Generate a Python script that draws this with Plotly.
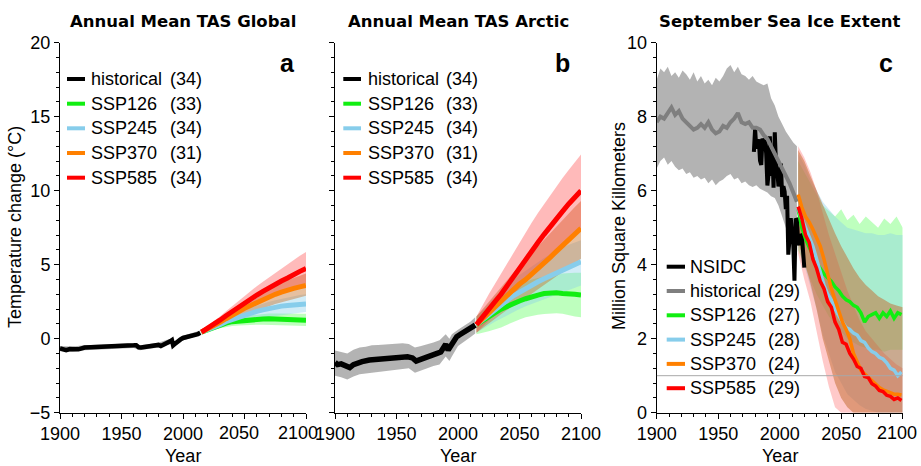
import plotly.graph_objects as go

# ---------------- DATA ----------------
# Panel a: Annual Mean TAS Global (degC)
hist_years_a = [1900, 1903, 1905, 1908, 1910, 1913, 1915, 1918, 1920, 1925, 1930, 1935, 1940, 1945, 1950,
                1955, 1960, 1962, 1964, 1966, 1970, 1975, 1980, 1982, 1985, 1988, 1990, 1991, 1992, 1993,
                1995, 1998, 2000, 2003, 2005, 2008, 2010, 2012, 2014]
hist_a = [-0.65, -0.75, -0.78, -0.7, -0.68, -0.72, -0.72, -0.65, -0.6, -0.57, -0.54, -0.52, -0.5, -0.48, -0.47,
          -0.46, -0.45, -0.44, -0.58, -0.6, -0.55, -0.5, -0.42, -0.5, -0.4, -0.3, -0.16, -0.1, -0.45, -0.38,
          -0.22, -0.05, 0.05, 0.12, 0.18, 0.2, 0.22, 0.3, 0.4]
band_years_a = [1900, 1910, 1920, 1940, 1960, 1965, 1980, 1990, 1992, 2000, 2014]
hist_a_lo = [-0.85, -0.88, -0.78, -0.68, -0.62, -0.78, -0.6, -0.35, -0.6, -0.12, 0.25]
hist_a_hi = [-0.5, -0.52, -0.45, -0.35, -0.3, -0.45, -0.27, 0.02, -0.28, 0.2, 0.55]

proj_years = [2015, 2020, 2025, 2030, 2035, 2040, 2045, 2050, 2055, 2060, 2065, 2070, 2075, 2080, 2085, 2090, 2095, 2100]

ssp126_a = [0.45, 0.6, 0.8, 0.95, 1.05, 1.15, 1.2, 1.25, 1.3, 1.32, 1.33, 1.35, 1.32, 1.3, 1.3, 1.27, 1.25, 1.25]
ssp126_a_lo = [0.35, 0.45, 0.6, 0.7, 0.8, 0.85, 0.9, 0.92, 0.95, 0.95, 0.95, 0.95, 0.93, 0.92, 0.9, 0.88, 0.87, 0.85]
ssp126_a_hi = [0.55, 0.75, 0.95, 1.15, 1.3, 1.45, 1.5, 1.55, 1.6, 1.65, 1.68, 1.7, 1.7, 1.7, 1.7, 1.7, 1.7, 1.68]
ssp245_a = [0.45, 0.6, 0.8, 0.95, 1.15, 1.3, 1.45, 1.6, 1.7, 1.85, 1.95, 2.05, 2.1, 2.2, 2.25, 2.3, 2.35, 2.35]
ssp245_a_lo = [0.35, 0.45, 0.6, 0.75, 0.9, 1.0, 1.1, 1.2, 1.3, 1.4, 1.45, 1.5, 1.55, 1.6, 1.65, 1.7, 1.75, 1.8]
ssp245_a_hi = [0.55, 0.75, 0.95, 1.15, 1.4, 1.6, 1.8, 1.95, 2.1, 2.25, 2.4, 2.5, 2.6, 2.7, 2.8, 2.85, 2.95, 3.0]
ssp370_a = [0.45, 0.65, 0.9, 1.1, 1.35, 1.6, 1.85, 2.05, 2.25, 2.45, 2.65, 2.85, 3.0, 3.15, 3.3, 3.4, 3.5, 3.6]
ssp370_a_lo = [0.35, 0.5, 0.7, 0.85, 1.05, 1.25, 1.45, 1.6, 1.75, 1.9, 2.05, 2.2, 2.35, 2.5, 2.6, 2.7, 2.8, 2.9]
ssp370_a_hi = [0.55, 0.8, 1.1, 1.35, 1.65, 1.95, 2.2, 2.45, 2.7, 2.95, 3.2, 3.4, 3.6, 3.8, 3.95, 4.1, 4.25, 4.4]
ssp585_a = [0.45, 0.7, 0.95, 1.25, 1.55, 1.85, 2.15, 2.45, 2.75, 2.95, 3.2, 3.45, 3.65, 3.9, 4.1, 4.35, 4.55, 4.75]
ssp585_a_lo = [0.35, 0.55, 0.75, 1.0, 1.25, 1.5, 1.75, 2.0, 2.2, 2.4, 2.6, 2.8, 2.95, 3.15, 3.3, 3.45, 3.6, 3.75]
ssp585_a_hi = [0.55, 0.85, 1.15, 1.5, 1.85, 2.2, 2.55, 2.9, 3.2, 3.55, 3.85, 4.15, 4.45, 4.75, 5.05, 5.35, 5.6, 5.85]

# Panel b: Annual Mean TAS Arctic (degC)
hist_years_b = [1900, 1902, 1905, 1908, 1912, 1915, 1918, 1922, 1928, 1933, 1939, 1945, 1950, 1955, 1959,
                1963, 1966, 1968, 1972, 1975, 1979, 1983, 1986, 1989, 1990, 1992, 1994, 1997, 1999, 2002,
                2005, 2007, 2010, 2012, 2014]
hist_b = [-1.6, -1.75, -1.7, -1.8, -1.95, -1.75, -1.62, -1.55, -1.44, -1.4, -1.37, -1.3, -1.26, -1.22, -1.22,
          -1.3, -1.51, -1.45, -1.35, -1.26, -1.15, -0.99, -0.9, -0.45, -0.38, -0.77, -0.5, -0.1, 0.14, 0.3,
          0.47, 0.5, 0.7, 0.8, 0.92]
band_years_b = [1900, 1905, 1910, 1915, 1920, 1925, 1930, 1935, 1940, 1945, 1950, 1955, 1960, 1965, 1970,
                1975, 1980, 1985, 1990, 1993, 1995, 2000, 2005, 2010, 2014]
hist_b_lo = [-2.5, -2.6, -2.75, -2.55, -2.4, -2.35, -2.25, -2.2, -2.15, -2.1, -2.05, -2.05, -2.0, -2.3, -2.15,
             -2.0, -1.85, -1.75, -1.2, -1.5, -1.2, -0.5, -0.2, 0.1, 0.35]
hist_b_hi = [-0.8, -0.9, -1.0, -0.75, -0.6, -0.55, -0.45, -0.42, -0.38, -0.36, -0.3, -0.3, -0.35, -0.6, -0.5,
             -0.4, -0.25, -0.1, 0.3, 0.0, 0.3, 0.6, 0.85, 1.15, 1.45]

ssp126_b = [0.95, 1.25, 1.5, 1.75, 2.0, 2.2, 2.4, 2.55, 2.7, 2.85, 2.95, 3.05, 3.1, 3.1, 3.05, 3.05, 3.0, 2.95]
ssp126_b_lo = [0.3, 0.4, 0.5, 0.6, 0.75, 0.95, 1.15, 1.3, 1.45, 1.55, 1.62, 1.67, 1.72, 1.72, 1.68, 1.6, 1.5, 1.45]
ssp126_b_hi = [1.5, 1.9, 2.25, 2.6, 2.9, 3.2, 3.45, 3.65, 3.85, 4.0, 4.1, 4.2, 4.3, 4.35, 4.4, 4.45, 4.45, 4.45]
ssp245_b = [0.95, 1.3, 1.65, 2.0, 2.3, 2.6, 2.9, 3.15, 3.4, 3.6, 3.85, 4.05, 4.25, 4.45, 4.65, 4.85, 5.05, 5.2]
ssp245_b_lo = [0.4, 0.65, 0.9, 1.15, 1.4, 1.6, 1.8, 2.0, 2.2, 2.4, 2.55, 2.7, 2.85, 3.0, 3.15, 3.3, 3.45, 3.6]
ssp245_b_hi = [1.5, 1.95, 2.4, 2.85, 3.2, 3.6, 3.95, 4.3, 4.6, 4.9, 5.2, 5.45, 5.7, 5.95, 6.15, 6.35, 6.5, 6.65]
ssp370_b = [0.95, 1.35, 1.75, 2.15, 2.55, 2.95, 3.35, 3.7, 4.0, 4.35, 4.7, 5.1, 5.5, 5.9, 6.3, 6.7, 7.1, 7.45]
ssp370_b_lo = [0.4, 0.7, 1.0, 1.35, 1.65, 1.95, 2.25, 2.5, 2.75, 3.0, 3.3, 3.6, 3.9, 4.2, 4.5, 4.8, 5.1, 5.4]
ssp370_b_hi = [1.5, 2.0, 2.5, 3.0, 3.5, 4.0, 4.5, 4.95, 5.35, 5.8, 6.2, 6.7, 7.15, 7.6, 8.05, 8.5, 8.9, 9.3]
ssp585_b = [0.95, 1.5, 2.0, 2.5, 3.0, 3.6, 4.2, 4.8, 5.4, 5.95, 6.5, 7.05, 7.6, 8.1, 8.6, 9.1, 9.55, 10.0]
ssp585_b_lo = [0.4, 0.85, 1.25, 1.65, 2.05, 2.5, 2.95, 3.4, 3.85, 4.3, 4.75, 5.2, 5.6, 6.0, 6.4, 6.8, 7.1, 7.4]
ssp585_b_hi = [1.5, 2.3, 3.0, 3.7, 4.4, 5.1, 5.8, 6.5, 7.2, 7.85, 8.5, 9.1, 9.7, 10.3, 10.85, 11.4, 11.95, 12.45]

# Panel c: September Sea Ice Extent (million km^2)
hist_years_c = [1900, 1903, 1906, 1909, 1912, 1915, 1918, 1921, 1924, 1927, 1930, 1933, 1936, 1939, 1942,
                1945, 1948, 1951, 1954, 1957, 1960, 1963, 1966, 1969, 1972, 1975, 1978, 1981, 1984, 1987,
                1990, 1993, 1996, 1999, 2002, 2005, 2008, 2011, 2014]
hist_c = [7.85, 8.0, 7.95, 8.1, 8.25, 8.05, 8.15, 7.95, 7.85, 7.75, 7.65, 7.7, 7.8, 7.7, 7.85,
          7.65, 7.55, 7.6, 7.75, 7.7, 7.85, 7.95, 8.1, 7.85, 7.8, 7.85, 7.7, 7.7, 7.65, 7.5,
          7.4, 7.2, 7.0, 6.85, 6.6, 6.45, 6.2, 5.95, 5.7]
hist_c_hi = [9.0, 9.3, 9.2, 9.35, 9.1, 9.2, 9.05, 9.25, 9.15, 9.0, 9.2, 8.95, 9.1, 8.9, 9.0,
             8.85, 9.05, 8.95, 9.1, 9.3, 9.4, 9.2, 9.35, 9.15, 9.1, 9.0, 9.1, 8.95, 8.9, 8.85,
             8.9, 8.5, 8.3, 8.0, 7.8, 7.6, 7.45, 7.3, 7.2]
hist_c_lo = [6.6, 6.8, 6.9, 6.7, 6.8, 6.65, 6.55, 6.6, 6.45, 6.5, 6.35, 6.4, 6.3, 6.35, 6.2,
             6.3, 6.15, 6.25, 6.3, 6.4, 6.45, 6.3, 6.35, 6.2, 6.25, 6.15, 6.1, 6.15, 6.05, 6.0,
             5.95, 5.85, 5.8, 5.6, 5.3, 5.0, 4.7, 4.45, 4.3]

nsidc_years = list(range(1979, 2021))
nsidc = [7.05, 7.67, 7.14, 7.3, 7.39, 6.81, 6.7, 7.41, 7.28, 7.37, 7.01, 6.14, 6.47, 7.47, 6.4, 7.14,
         6.08, 7.58, 6.69, 6.54, 6.12, 6.25, 6.73, 5.83, 6.12, 5.98, 5.5, 5.86, 4.27, 4.69, 5.26, 4.87,
         4.56, 3.57, 5.21, 5.22, 4.62, 4.53, 4.82, 4.79, 4.32, 3.92]

proj_years_c = [2015, 2018, 2021, 2024, 2027, 2030, 2033, 2036, 2039, 2042, 2045, 2048, 2051, 2054, 2057,
                2060, 2063, 2066, 2069, 2072, 2075, 2078, 2081, 2084, 2087, 2090, 2093, 2096, 2099]
ssp126_c = [5.5, 5.0, 4.7, 4.45, 4.25, 4.05, 3.9, 3.75, 3.65, 3.55, 3.4, 3.3, 3.15, 3.05, 3.0,
            2.9, 2.85, 2.7, 2.45, 2.6, 2.65, 2.7, 2.55, 2.7, 2.6, 2.75, 2.55, 2.7, 2.65]
ssp245_c = [5.5, 5.25, 4.95, 4.7, 4.5, 4.15, 3.8, 3.45, 3.2, 3.05, 2.8, 2.6, 2.45, 2.3, 2.25,
            2.15, 2.1, 1.95, 1.9, 1.75, 1.65, 1.6, 1.5, 1.45, 1.35, 1.2, 1.15, 1.0, 1.1]
ssp370_c = [5.9, 5.55, 5.3, 5.15, 4.95, 4.75, 4.5, 4.15, 3.7, 3.35, 3.05, 2.75, 2.45, 2.25, 2.0,
            1.6, 1.35, 1.15, 1.05, 0.95, 0.88, 0.78, 0.68, 0.62, 0.58, 0.52, 0.5, 0.5, 0.48]
ssp585_c = [5.57, 5.25, 4.8, 4.6, 4.15, 3.9, 3.55, 3.35, 3.0, 2.85, 2.45, 2.25, 1.9, 1.85, 1.6,
            1.45, 1.25, 1.2, 0.98, 0.95, 0.78, 0.72, 0.6, 0.57, 0.47, 0.44, 0.36, 0.4, 0.33]

ssp126_c_lo = [4.4, 4.0, 3.6, 3.2, 2.9, 2.6, 2.4, 2.2, 2.0, 1.9, 1.8, 1.75, 1.7, 1.7, 1.65, 1.7, 1.7, 1.7]
ssp126_c_hi = [6.8, 6.5, 6.2, 5.9, 5.6, 5.45, 5.3, 5.5, 5.2, 5.35, 5.1, 5.3, 5.15, 5.0, 5.25, 5.1, 5.3, 5.0]
ssp245_c_lo = [4.5, 4.0, 3.4, 2.8, 2.1, 1.6, 1.1, 0.8, 0.5, 0.35, 0.2, 0.1, 0.05, 0.0, 0.0, 0.0, 0.0, 0.0]
ssp245_c_hi = [7.0, 6.7, 6.3, 6.0, 5.7, 5.5, 5.3, 5.15, 5.0, 4.95, 4.9, 4.85, 4.85, 4.8, 4.8, 4.85, 4.8, 4.8]
ssp370_c_lo = [4.6, 4.1, 3.5, 2.8, 2.0, 1.4, 0.8, 0.4, 0.15, 0.0, 0.0, 0.0, 0.0, 0.0, 0.0, 0.0, 0.0, 0.0]
ssp370_c_hi = [7.1, 6.8, 6.4, 6.0, 5.6, 5.2, 4.85, 4.5, 4.2, 3.9, 3.65, 3.45, 3.3, 3.15, 3.05, 2.95, 2.9, 2.85]
ssp585_c_lo = [4.3, 3.6, 3.0, 2.2, 1.4, 0.7, 0.15, 0.0, 0.0, 0.0, 0.0, 0.0, 0.0, 0.0, 0.0, 0.0, 0.0, 0.0]
ssp585_c_hi = [7.2, 6.9, 6.5, 6.0, 5.4, 4.8, 4.3, 3.8, 3.3, 2.9, 2.5, 2.2, 2.0, 1.8, 1.6, 1.45, 1.3, 1.2]

# Tick labels and legend texts
x_tick_vals = [1900, 1950, 2000, 2050, 2100]
x_tick_text = ["1900", "1950", "2000", "2050", "2100"]
legend_names_ab = ["historical", "SSP126", "SSP245", "SSP370", "SSP585"]
legend_counts_ab = ["(34)", "(33)", "(34)", "(31)", "(34)"]
legend_names_c = ["NSIDC", "historical", "SSP126", "SSP245", "SSP370", "SSP585"]
legend_counts_c = ["", "(29)", "(27)", "(28)", "(24)", "(29)"]

# ---------------- STYLE ----------------
W, H = 921, 466
C_HIST = "black"
C_126 = "#11ee11"
C_245 = "#87cdeb"
C_370 = "#ff8000"
C_585 = "#ff0000"
F_126 = "rgba(40,255,40,0.30)"
F_245 = "rgba(135,206,235,0.38)"
F_370 = "rgba(200,115,45,0.45)"
F_585 = "rgba(255,40,40,0.32)"
F_370C = "rgba(195,110,50,0.52)"
F_585C = "rgba(255,60,60,0.28)"
F_GRAY = "rgba(150,150,150,0.72)"

fig = go.Figure()


def band(xa, ya, years, lo, hi, color):
    fig.add_trace(go.Scatter(x=list(years) + list(years)[::-1], y=list(hi) + list(lo)[::-1],
                             xaxis=xa, yaxis=ya, fill="toself", fillcolor=color, mode="lines",
                             line=dict(width=0), hoverinfo="skip", showlegend=False))


def line(xa, ya, years, vals, color, width):
    fig.add_trace(go.Scatter(x=years, y=vals, xaxis=xa, yaxis=ya, mode="lines",
                             line=dict(color=color, width=width), showlegend=False))


# Panel a
band("x", "y", band_years_a, hist_a_lo, hist_a_hi, F_GRAY)
band("x", "y", proj_years, ssp126_a_lo, ssp126_a_hi, F_126)
band("x", "y", proj_years, ssp245_a_lo, ssp245_a_hi, F_245)
band("x", "y", proj_years, ssp370_a_lo, ssp370_a_hi, F_370)
band("x", "y", proj_years, ssp585_a_lo, ssp585_a_hi, F_585)
line("x", "y", hist_years_a, hist_a, C_HIST, 4.5)
line("x", "y", proj_years, ssp126_a, C_126, 5)
line("x", "y", proj_years, ssp245_a, C_245, 5)
line("x", "y", proj_years, ssp370_a, C_370, 5)
line("x", "y", proj_years, ssp585_a, C_585, 5)

# Panel b
band("x2", "y2", band_years_b, hist_b_lo, hist_b_hi, F_GRAY)
band("x2", "y2", proj_years, ssp126_b_lo, ssp126_b_hi, F_126)
band("x2", "y2", proj_years, ssp245_b_lo, ssp245_b_hi, F_245)
band("x2", "y2", proj_years, ssp370_b_lo, ssp370_b_hi, F_370)
band("x2", "y2", proj_years, ssp585_b_lo, ssp585_b_hi, F_585)
line("x2", "y2", hist_years_b, hist_b, C_HIST, 5.5)
line("x2", "y2", proj_years, ssp126_b, C_126, 5)
line("x2", "y2", proj_years, ssp245_b, C_245, 5)
line("x2", "y2", proj_years, ssp370_b, C_370, 5)
line("x2", "y2", proj_years, ssp585_b, C_585, 5)

# Panel c
band("x3", "y3", hist_years_c, hist_c_lo, hist_c_hi, F_GRAY)
band("x3", "y3", proj_years, ssp126_c_lo, ssp126_c_hi, F_126)
band("x3", "y3", proj_years, ssp245_c_lo, ssp245_c_hi, F_245)
band("x3", "y3", proj_years, ssp585_c_lo, ssp585_c_hi, F_585C)
band("x3", "y3", proj_years, ssp370_c_lo, ssp370_c_hi, F_370C)
line("x3", "y3", nsidc_years, nsidc, "black", 4)
line("x3", "y3", hist_years_c, hist_c, "#7f7f7f", 4)
line("x3", "y3", proj_years_c, ssp126_c, C_126, 3.5)
line("x3", "y3", proj_years_c, ssp245_c, C_245, 3.5)
line("x3", "y3", proj_years_c, ssp370_c, C_370, 3.5)
line("x3", "y3", proj_years_c, ssp585_c, C_585, 3.5)


def px(x):
    return x / W


def py(y):
    return 1 - y / H


TICKFONT = dict(family="Liberation Sans, Arial, sans-serif", size=18, color="black")
doms = [[px(60), px(306)], [px(335), px(581)], [px(656.7), px(902.7)]]
ydom = [py(412.7), py(42.7)]
yranges = [[-5, 20], [-5, 20], [0, 10]]
ydt = [5, 5, 2]
ymin = [1, 1, 0.4]

layout = dict(width=W, height=H, margin=dict(l=0, r=0, t=0, b=0, autoexpand=False),
              paper_bgcolor="white", plot_bgcolor="white", showlegend=False)
for i in range(3):
    s = "" if i == 0 else str(i + 1)
    o = str(i + 4)
    base = dict(showgrid=False, zeroline=False, showline=True, linecolor="black", linewidth=1,
                tickcolor="black", tickwidth=1, tickfont=TICKFONT, automargin=False)
    # panel a: last two year labels drawn separately (nudged left in the original);
    # panel c: last label drawn separately (it sits at the right edge)
    if i == 0:
        ttext = x_tick_text[:3] + ["", ""]
    elif i == 2:
        ttext = x_tick_text[:4] + [""]
    else:
        ttext = x_tick_text
    layout["xaxis" + s] = dict(base, domain=doms[i], anchor="y" + s, range=[1900, 2100],
                               tickmode="array", tickvals=x_tick_vals, ticktext=ttext,
                               ticks="outside", ticklen=5,
                               minor=dict(tick0=1900, dtick=10, ticks="outside", ticklen=3,
                                          tickcolor="black", showgrid=False))
    layout["yaxis" + s] = dict(base, domain=ydom, anchor="x" + s, range=yranges[i],
                               tick0=0, dtick=ydt[i], ticks="outside", ticklen=5,
                               showticklabels=(i != 1),
                               minor=dict(tick0=0, dtick=ymin[i], ticks="outside", ticklen=3,
                                          tickcolor="black", showgrid=False))
    layout["xaxis" + o] = dict(base, overlaying="x" + s, anchor="y" + s, side="top", range=[1900, 2100],
                               tickmode="array", tickvals=x_tick_vals,
                               ticks="inside", ticklen=5, showticklabels=False,
                               minor=dict(tick0=1900, dtick=10, ticks="inside", ticklen=3,
                                          tickcolor="black", showgrid=False))
    layout["yaxis" + o] = dict(base, overlaying="y" + s, anchor="x" + s, side="right", range=yranges[i],
                               tick0=0, dtick=ydt[i], ticks="inside", ticklen=5, showticklabels=False,
                               minor=dict(tick0=0, dtick=ymin[i], ticks="inside", ticklen=3,
                                          tickcolor="black", showgrid=False))

fig.update_layout(**layout)

ann = []
shapes = []
TITLEFONT = dict(family="DejaVu Sans", size=16.5, color="black", weight="bold")


def text(x, y, t, size=18, anchor="left", font=None, angle=0):
    f = font if font else dict(family="Liberation Sans, Arial, sans-serif", size=size, color="black")
    ann.append(dict(x=px(x), y=py(y), xref="paper", yref="paper", text=t, showarrow=False,
                    xanchor=anchor, yanchor="middle", font=f, textangle=angle))


# titles
text(183, 21, "Annual Mean TAS Global", anchor="center", font=TITLEFONT)
text(458, 21, "Annual Mean TAS Arctic", anchor="center", font=TITLEFONT)
text(779.7, 21, "September Sea Ice Extent", anchor="center", font=TITLEFONT)
# panel letters
LF = dict(family="Liberation Sans, Arial, sans-serif", size=25, color="black", weight="bold")
text(287.5, 63, "a", anchor="center", font=LF)
text(562.5, 63, "b", anchor="center", font=LF)
text(886.3, 63, "c", anchor="center", font=LF)
# separately drawn year labels
text(239, 432.5, x_tick_text[3], anchor="center")
text(298, 432.5, x_tick_text[4], anchor="center")
text(919, 432.5, x_tick_text[4], anchor="right")
# axis titles
text(183, 455.5, "Year", anchor="center")
text(458, 455.5, "Year", anchor="center")
text(779.7, 455.5, "Year", anchor="center")
text(15, 227, "Temperature change (°C)", anchor="center", angle=-90)
text(619, 226, "Million Square Killometers", anchor="center", angle=-90)

# legends
colors_ab = [C_HIST, C_126, C_245, C_370, C_585]
rows_ab = [79, 103.7, 128.3, 153, 177.7]
for (lx0, lx1, tx, cx) in [(67, 85, 89, 167.7), (343.3, 361, 366, 444.3)]:
    for k in range(5):
        shapes.append(dict(type="line", xref="paper", yref="paper", x0=px(lx0), x1=px(lx1),
                           y0=py(rows_ab[k]), y1=py(rows_ab[k]), line=dict(color=colors_ab[k], width=4)))
        text(tx, rows_ab[k], legend_names_ab[k])
        text(cx, rows_ab[k], legend_counts_ab[k])

colors_c = ["black", "#7f7f7f", C_126, C_245, C_370, C_585]
rows_c = [266.7, 291, 315.3, 339.6, 363.9, 388.2]
for k in range(6):
    shapes.append(dict(type="line", xref="paper", yref="paper", x0=px(666.7), x1=px(685),
                       y0=py(rows_c[k]), y1=py(rows_c[k]), line=dict(color=colors_c[k], width=4)))
    text(688.3, rows_c[k], legend_names_c[k])
    if legend_counts_c[k]:
        text(766, rows_c[k], legend_counts_c[k])

# 1 million km^2 reference line
shapes.append(dict(type="line", xref="x3", yref="y3", x0=1900, x1=2100, y0=1, y1=1,
                   line=dict(color="#a8a8a8", width=1), layer="above"))

fig.update_layout(annotations=ann, shapes=shapes)
fig.write_html("out.html", config={"displayModeBar": False, "staticPlot": True},
               post_script="document.body.style.margin='0px';document.body.style.overflow='hidden';")
